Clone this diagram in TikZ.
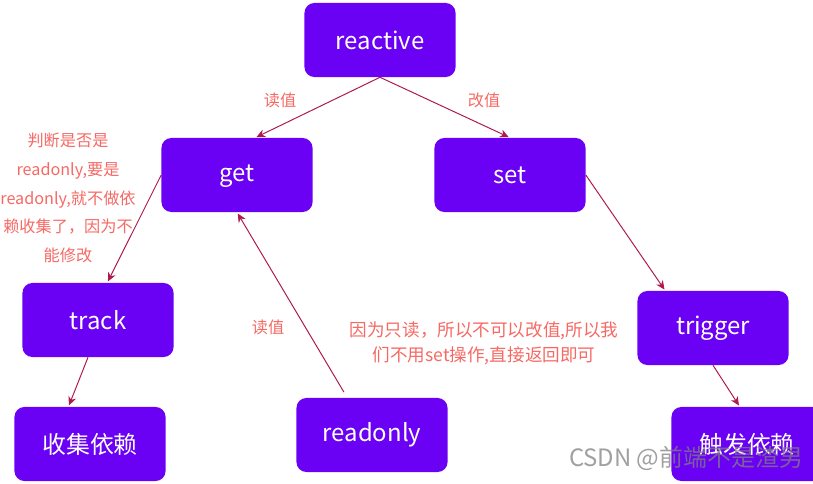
\documentclass[tikz,border=0pt]{standalone}
\usepackage{fontspec}
\setmainfont{Noto Sans CJK SC}
\usepackage{tikz}
\usetikzlibrary{arrows.meta, positioning}
\definecolor{boxpurple}{RGB}{106, 0, 244}
\definecolor{linkred}{RGB}{175, 25, 75}
\definecolor{notered}{RGB}{245, 105, 100}

\begin{document}
\begin{tikzpicture}[x=0.025cm, y=-0.025cm,
        box/.style={rectangle, rounded corners=7pt, fill=boxpurple, text=white, minimum width=3.775cm, minimum height=1.85cm, align=center, font=\fontsize{17}{20}\selectfont},
        arrowstyle/.style={-{Stealth[length=2.2mm, width=2mm]}, line width=0.7pt, color=linkred, shorten >=1pt},
        note/.style={text=notered, align=center, font=\fontsize{11.5}{20.5}\selectfont}
    ]
        \useasboundingbox (0,0) rectangle (813,484);
        \node[box] (reactive) at (380, 40) {reactive};
        \node[box] (get) at (237, 175) {get\vphantom{k}};
        \node[box] (set) at (510, 175) {set};
        \node[box] (track) at (98, 320) {track};
        \node[box] (trigger) at (713, 328) {trigger};
        \node[box] (collect) at (90, 444) {收集依赖};
        \node[box] (readonly) at (372, 435) {readonly};
        \node[box] (fire) at (747, 444) {触发依赖};

        \draw[arrowstyle] (reactive.south) -- (get.64);
        \draw[arrowstyle] (reactive.south) -- (set.north);
        \draw[arrowstyle] (get.west) -- (track.76);
        \draw[arrowstyle] (set.east) -- (trigger.142);
        \draw[arrowstyle] (track.255) -- (collect.120);
        \draw[arrowstyle] ([yshift=4pt]readonly.127) -- (get.south);
        \draw[arrowstyle] (trigger.south) -- (fire.101);

        \node[note] (readlbl) at (280, 100) {读值};
        \node[note] (writelbl) at (484, 100) {改值};
        \node[note] (checknote) at (68, 198) {判断是否是\\readonly,要是\\readonly,就不做依\\赖收集了，因为不\\能修改};
        \node[note] (readlbl2) at (268, 327) {读值};
        \node[note, font=\fontsize{12.5}{18}\selectfont] (onlynote) at (484, 343) {因为只读，所以不可以改值,所以我\\们不用set操作,直接返回即可};

        \node[text=gray, opacity=0.75, font=\fontsize{17}{20}\selectfont] (mark) at (686, 458) {CSDN @前端不是渣男};
    \end{tikzpicture}
\end{document}
